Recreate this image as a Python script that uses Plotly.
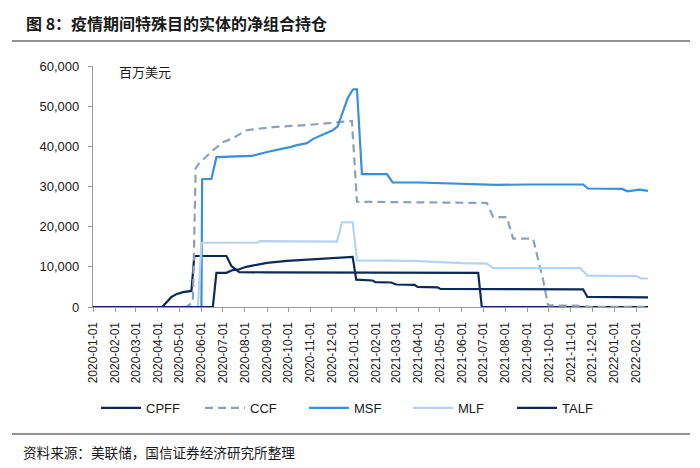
import plotly.graph_objects as go

# ---------------- data (millions of USD) ----------------
cpff_dates = ["2020-01-01", "2020-04-07", "2020-04-20", "2020-04-27", "2020-05-06", "2020-05-15",
              "2020-05-18", "2020-05-22", "2020-07-06", "2020-07-13", "2020-07-24", "2020-09-01",
              "2020-12-31", "2021-06-24", "2021-06-29", "2022-02-17"]
cpff_vals = [0, 0, 2500, 3200, 3700, 4000, 4000, 12700, 12700, 10200, 8700, 8600,
             8500, 8500, 0, 0]

ccf_dates = ["2020-01-01", "2020-05-11", "2020-05-20", "2020-05-24", "2020-05-29", "2020-06-17",
             "2020-07-01", "2020-07-15", "2020-08-03", "2020-09-09", "2020-10-27", "2020-12-08",
             "2020-12-29", "2021-01-05", "2021-07-06", "2021-07-15", "2021-08-03", "2021-08-12",
             "2021-09-09", "2021-09-15", "2021-09-23", "2021-09-30", "2021-11-14", "2021-11-28",
             "2022-02-17"]
ccf_vals = [0, 0, 1200, 34600, 35800, 39000, 41000, 42000, 44000, 44800, 45300, 46000,
            46300, 26200, 25900, 22400, 22400, 17000, 17000, 12500, 6700, 400, 300, 50, 50]

msf_dates = ["2020-01-01", "2020-06-01", "2020-06-02", "2020-06-15", "2020-06-22", "2020-08-10",
             "2020-09-01", "2020-09-16", "2020-10-03", "2020-10-13", "2020-10-27", "2020-11-04",
             "2020-11-18", "2020-12-02", "2020-12-09", "2020-12-16", "2020-12-23", "2020-12-29",
             "2020-12-31", "2021-01-05", "2021-01-12", "2021-02-16", "2021-02-24", "2021-04-01",
             "2021-05-01", "2021-06-01", "2021-07-20", "2021-09-01", "2021-10-01", "2021-11-18",
             "2021-11-25", "2022-01-12", "2022-01-19", "2022-02-05", "2022-02-17"]
msf_vals = [0, 0, 31800, 31900, 37300, 37600, 38600, 39100, 39800, 40300, 40800, 41800,
            43000, 44000, 45000, 48300, 52000, 53800, 54200, 54200, 33100, 33100, 31000, 31000,
            30800, 30600, 30400, 30500, 30500, 30500, 29500, 29400, 28800, 29200, 28900]

mlf_dates = ["2020-01-01", "2020-05-27", "2020-06-01", "2020-08-19", "2020-08-22", "2020-12-08",
             "2020-12-15", "2020-12-30", "2021-01-05", "2021-03-24", "2021-06-02", "2021-07-06",
             "2021-07-15", "2021-11-14", "2021-11-24", "2022-02-01", "2022-02-07", "2022-02-17"]
mlf_vals = [0, 0, 16000, 16000, 16400, 16300, 21100, 21100, 11600, 11500, 10900, 10800,
            9700, 9700, 7800, 7700, 7100, 7100]

talf_dates = ["2020-01-01", "2020-06-17", "2020-06-22", "2020-07-06", "2020-07-15", "2020-07-24",
              "2020-08-03", "2020-08-12", "2020-09-01", "2020-09-29", "2020-10-31", "2020-11-28",
              "2020-12-12", "2020-12-30", "2021-01-04", "2021-01-27", "2021-01-31", "2021-02-22",
              "2021-03-01", "2021-03-27", "2021-03-31", "2021-04-28", "2021-05-02", "2021-11-18",
              "2021-11-24", "2022-02-17"]
talf_vals = [0, 0, 8500, 8500, 9200, 9400, 10000, 10300, 11000, 11500, 11900, 12200,
             12400, 12500, 6800, 6600, 6200, 6100, 5600, 5500, 5000, 4900, 4500, 4400,
             2500, 2400]

tick_dates = ["2020-01-01", "2020-02-01", "2020-03-01", "2020-04-01", "2020-05-01", "2020-06-01",
              "2020-07-01", "2020-08-01", "2020-09-01", "2020-10-01", "2020-11-01", "2020-12-01",
              "2021-01-01", "2021-02-01", "2021-03-01", "2021-04-01", "2021-05-01", "2021-06-01",
              "2021-07-01", "2021-08-01", "2021-09-01", "2021-10-01", "2021-11-01", "2021-12-01",
              "2022-01-01", "2022-02-01"]
y_ticks = [0, 10000, 20000, 30000, 40000, 50000, 60000]

title_text = "图 8：疫情期间特殊目的实体的净组合持仓"
unit_text = "百万美元"
source_text = "资料来源：美联储，国信证券经济研究所整理"

# ---------------- styling ----------------
# the page body adds an 8px offset, so the figure is laid out in page
# coordinates minus that offset
OFF = 8
W, H = 700 - OFF, 468 - OFF
PL, PR, PT, PB = 93, 648, 66, 307          # plot box in page pixels
L, T = PL - OFF, PT - OFF
R, B = W - (PR - OFF), H - (PB - OFF)
pw, ph = PR - PL, PB - PT

def px(xp):
    return (xp - PL) / pw

def py(yp):
    return (PB - yp) / ph

NAVY = "#0C2A55"
CCF_C = "#8FA1B6"
MSF_C = "#3A8FD6"
MLF_C = "#B5D3F1"
TXT = "#1a1a1a"
AXC = "#9a9a9a"
FONT = "Liberation Sans, Arial, sans-serif"
CJK = "Noto Sans CJK SC"

fig = go.Figure()
series = [
    ("CPFF", cpff_dates, cpff_vals, NAVY, "solid"),
    ("CCF", ccf_dates, ccf_vals, CCF_C, "8px,5px"),
    ("MSF", msf_dates, msf_vals, MSF_C, "solid"),
    ("MLF", mlf_dates, mlf_vals, MLF_C, "solid"),
    ("TALF", talf_dates, talf_vals, NAVY, "solid"),
]
for name, xs, ys, col, dash in series:
    fig.add_trace(go.Scatter(x=xs, y=ys, name=name, mode="lines",
                             line=dict(color=col, width=2.2, dash=dash)))

fig.update_layout(
    width=W, height=H,
    margin=dict(l=L, r=R, t=T, b=B, autoexpand=False),
    paper_bgcolor="white", plot_bgcolor="white",
    font=dict(family=FONT, color=TXT, size=12),
    showlegend=True,
    legend=dict(orientation="h", xref="container", yref="container",
                x=(356 - OFF) / W, xanchor="center", y=1 - (408 - OFF) / H, yanchor="middle",
                font=dict(family=FONT, size=13, color=TXT),
                itemwidth=40, entrywidth=49, entrywidthmode="pixels",
                bgcolor="rgba(0,0,0,0)"),
    xaxis=dict(type="date", range=["2020-01-01", "2022-02-17"],
               tickmode="array", tickvals=tick_dates, ticktext=tick_dates,
               tickangle=-90, ticks="outside", ticklen=4, tickcolor=AXC,
               ticklabelstandoff=5,
               showline=True, linecolor=AXC, linewidth=1.3, showgrid=False,
               zeroline=False, tickfont=dict(family=FONT, size=12, color=TXT)),
    yaxis=dict(range=[0, 60000], tickmode="array", tickvals=y_ticks,
               tickformat=",", ticks="outside", ticklen=4, tickcolor=AXC,
               ticklabelstandoff=6,
               showline=True, linecolor=AXC, linewidth=1.3, showgrid=False,
               zeroline=False, tickfont=dict(family=FONT, size=13, color=TXT)),
)

shapes = []
for yline in (7, 41, 434):
    shapes.append(dict(type="line", xref="paper", yref="paper",
                       x0=px(12), x1=px(690), y0=py(yline), y1=py(yline),
                       line=dict(color="#6e6e6e", width=1.6)))
fig.update_layout(shapes=shapes)

fig.add_annotation(text="<b>" + title_text + "</b>", xref="paper", yref="paper",
                   x=px(24), y=py(23), xanchor="left", yanchor="middle", showarrow=False,
                   font=dict(family=CJK, size=16, color=TXT))
fig.add_annotation(text=unit_text, xref="paper", yref="paper",
                   x=px(117), y=py(71), xanchor="left", yanchor="middle", showarrow=False,
                   font=dict(family=CJK, size=13, color=TXT))
fig.add_annotation(text=source_text, xref="paper", yref="paper",
                   x=px(21), y=py(452), xanchor="left", yanchor="middle", showarrow=False,
                   font=dict(family=CJK, size=13.6, color=TXT))

fig.write_html("out.html")
